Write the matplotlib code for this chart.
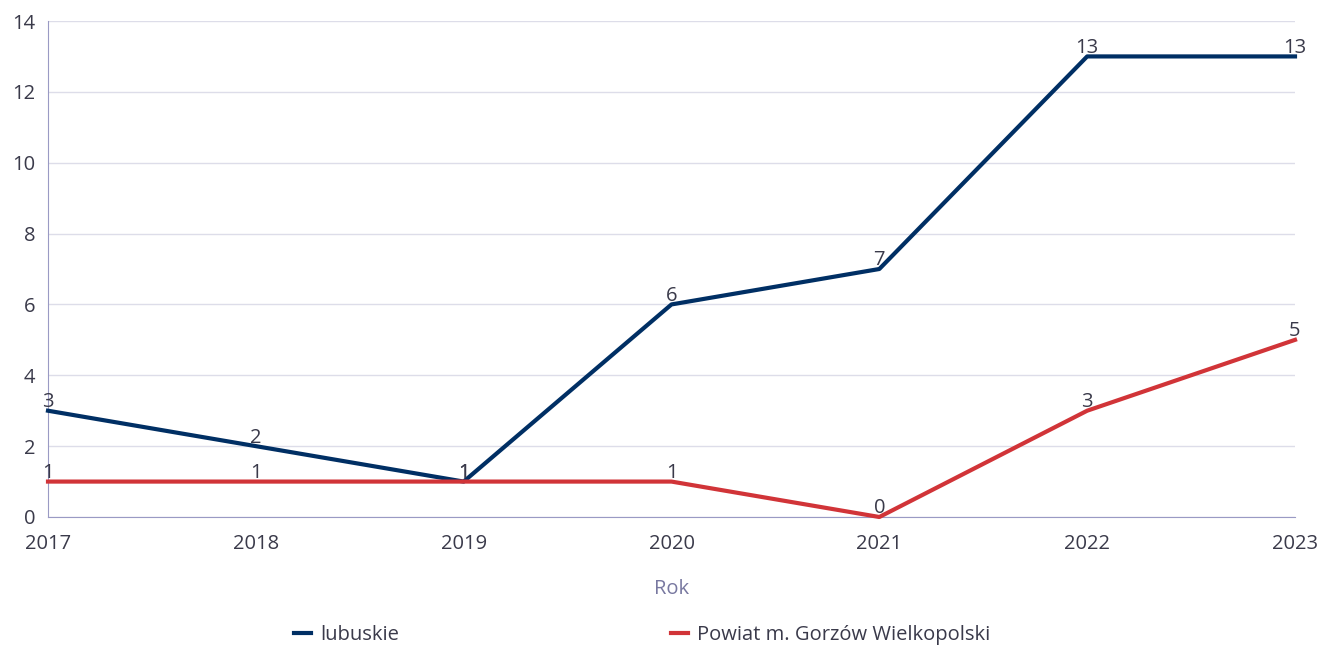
import matplotlib.pyplot as plt

plt.rcParams['font.family'] = ['Open Sans', 'DejaVu Sans']

years = [2017, 2018, 2019, 2020, 2021, 2022, 2023]
lubuskie = [3, 2, 1, 6, 7, 13, 13]
gorzow = [1, 1, 1, 1, 0, 3, 5]

txt = '#3a3a4a'
spine = '#9a9ac4'
grid = '#dddde9'

fig = plt.figure(figsize=(13.19, 6.47), dpi=100)
ax = fig.add_axes([48/1319, 1 - 517/647, (1295 - 48)/1319, (517 - 21)/647])

ax.plot(years, lubuskie, color='#002f64', lw=3, label='lubuskie', clip_on=False, zorder=3)
ax.plot(years, gorzow, color='#d13438', lw=3, label='Powiat m. Gorzów Wielkopolski', clip_on=False, zorder=3)

for x, y in zip(years, lubuskie):
    ax.annotate(str(y), (x, y), xytext=(0, -1), textcoords='offset points',
                ha='center', va='bottom', fontsize=14.5, color=txt)
for x, y in zip(years, gorzow):
    ax.annotate(str(y), (x, y), xytext=(0, -1), textcoords='offset points',
                ha='center', va='bottom', fontsize=14.5, color=txt)

ax.set_xlim(2017, 2023)
ax.set_ylim(0, 14)
ax.set_yticks(range(0, 15, 2))
ax.set_xticks(years)
ax.grid(axis='y', color=grid, lw=1)
ax.set_axisbelow(True)
for s in ['top', 'right']:
    ax.spines[s].set_visible(False)
for s in ['left', 'bottom']:
    ax.spines[s].set_color(spine)
ax.tick_params(length=0, labelsize=14.5, colors=txt)
ax.tick_params(axis='x', pad=12)
ax.tick_params(axis='y', pad=9)
ax.set_xlabel('Rok', fontsize=14.5, color='#7878a0', labelpad=18)

fig.legend(loc='center', bbox_to_anchor=(0.487, 1 - 635/647), ncol=2, frameon=False,
           fontsize=14.5, handlelength=0.85, handletextpad=0.45, columnspacing=13.5,
           labelcolor=txt)

fig.savefig('out.png', dpi=100)
